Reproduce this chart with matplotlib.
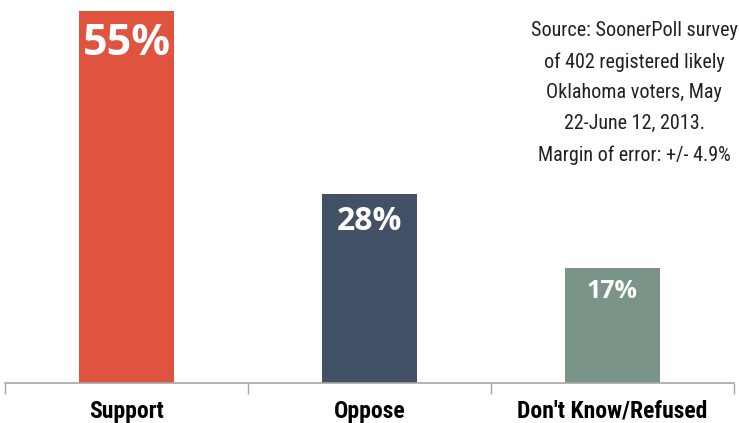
import matplotlib
matplotlib.use("Agg")
import matplotlib.pyplot as plt
from matplotlib import font_manager
from matplotlib.font_manager import FontProperties

categories = ["Support", "Oppose", "Don't Know/Refused"]
values = [55, 28, 17]
labels = ["55%", "28%", "17%"]
colors = ["#E0533F", "#435167", "#7A9488"]
label_sizes = [31, 23, 18]
source_text = ("Source: SoonerPoll survey\nof 402 registered likely\nOklahoma voters, May\n"
               "22-June 12, 2013.\nMargin of error: +/- 4.9%")


def find_font(bold):
    files = [f.fname for f in font_manager.fontManager.ttflist]
    low = [(p, p.lower().replace("-", "").replace("_", "")) for p in files]
    prefs = ["liberationsansnarrow", "robotocondensed", "opensanscondensed",
             "dejavusanscondensed", "notosanscondensed", "arialnarrow"]
    for pref in prefs:
        cands = [p for p, l in low if pref in l]
        if not cands:
            continue
        if bold:
            b = [p for p in cands if "bold" in p.lower() and "italic" not in p.lower()
                 and "oblique" not in p.lower() and "semi" not in p.lower()
                 and "extra" not in p.lower()]
            if b:
                b.sort(key=len)
                return FontProperties(fname=b[0])
        else:
            r = [p for p in cands if "bold" not in p.lower() and "italic" not in p.lower()
                 and "oblique" not in p.lower() and "light" not in p.lower()
                 and "thin" not in p.lower() and "medium" not in p.lower()
                 and "black" not in p.lower()]
            if r:
                r.sort(key=len)
                return FontProperties(fname=r[0])
    return FontProperties(family="DejaVu Sans", weight="bold" if bold else "normal")


fp_bold = find_font(True)
fp_reg = find_font(False)

W, H = 739, 423
fig = plt.figure(figsize=(W / 100, H / 100), dpi=100)
ax_left, ax_right = 5, 734
ax_bottom = 383
ax = fig.add_axes([ax_left / W, (H - ax_bottom) / H, (ax_right - ax_left) / W, ax_bottom / H])

x = list(range(len(categories)))
ax.bar(x, values, width=0.395, color=colors, zorder=2)
ax.set_xlim(-0.5, 2.5)
ax.set_ylim(0, 56.6)

for xi, v, lab, s in zip(x, values, labels, label_sizes):
    ax.annotate(lab, (xi, v), xytext=(0, -8), textcoords="offset points",
                ha="center", va="top", color="white", fontsize=s,
                fontweight="bold", family="Open Sans")

for sp in ["top", "right", "left"]:
    ax.spines[sp].set_visible(False)
ax.spines["bottom"].set_color("#A6A6A6")
ax.spines["bottom"].set_linewidth(1.2)
ax.set_yticks([])
ax.set_xticks([-0.5, 0.5, 1.5, 2.5], minor=True)
ax.tick_params(axis="x", which="minor", length=8, color="#A6A6A6", width=1)
ax.set_xticks(x)
ax.set_xticklabels(categories)
for t in ax.get_xticklabels():
    t.set_fontproperties(fp_bold)
    t.set_fontsize(17)
ax.tick_params(axis="x", which="major", length=0, pad=12)

t = fig.text(634 / W, 1 - 93 / H, source_text, ha="center", va="center",
             color="#231F20", linespacing=1.78)
t.set_fontproperties(fp_reg)
t.set_fontsize(14.5)

fig.savefig("out.png", dpi=100)
